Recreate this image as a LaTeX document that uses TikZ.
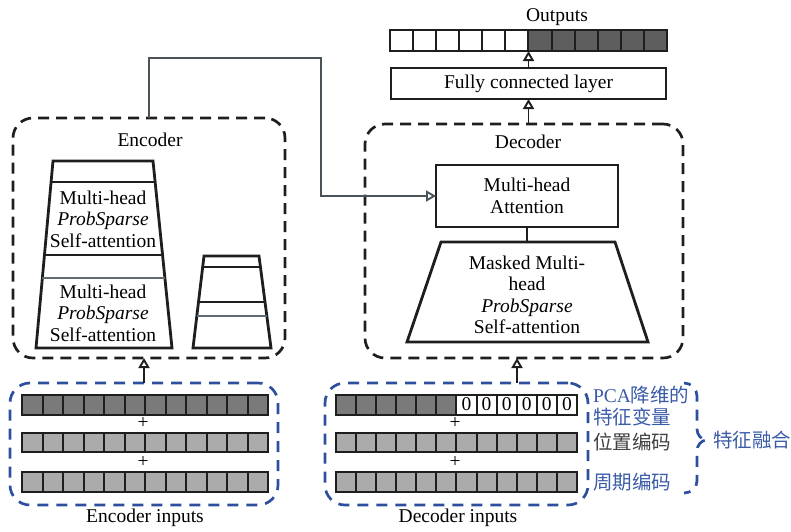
\documentclass[tikz,border=0pt]{standalone}
\usepackage{fontspec}
\setmainfont{Liberation Serif}
\newfontfamily\cjk{Noto Sans CJK SC}
\usetikzlibrary{arrows.meta,calc}
\definecolor{lineblk}{HTML}{1E1E1E}
\definecolor{conngray}{HTML}{4A5358}
\definecolor{midgray}{HTML}{5E6C72}
\definecolor{dashblue}{HTML}{2C4F9E}
\definecolor{txtblue}{HTML}{3A5BA8}
\definecolor{celldark}{HTML}{7A7A7A}
\definecolor{celllight}{HTML}{ABABAB}
\definecolor{outdark}{HTML}{5E5E5E}
\begin{document}
\begin{tikzpicture}[x=1pt,y=-1pt,
  font=\fontsize{19.5}{21.5}\selectfont,
  blkdash/.style={draw=lineblk, line width=2.7pt, dash pattern=on 11pt off 7pt, rounded corners=20pt, inner sep=0pt, outer sep=0pt},
  bluedash/.style={draw=dashblue, line width=2.7pt, dash pattern=on 11pt off 8pt, rounded corners=20pt, inner sep=0pt, outer sep=0pt},
  solidbox/.style={draw=lineblk, line width=2.8pt, inner sep=0pt, outer sep=0pt, align=center},
  trap/.style={draw=lineblk, line width=2.8pt, line join=miter},
  sep/.style={draw=lineblk, line width=2.4pt},
  gsep/.style={draw=midgray, line width=2.4pt},
  arrtip/.tip={Triangle[open, length=10pt, width=11pt, line width=1.9pt]},
  arr/.style={draw=lineblk, line width=1.8pt, -arrtip},
  conn/.style={draw=conngray, line width=1.8pt},
  cell/.style={draw=lineblk, line width=2pt},
  lbl/.style={inner sep=0pt, outer sep=0pt},
]
\useasboundingbox (0,0) rectangle (791,531);

% ---------- Outputs ----------
\node[lbl] (outlbl) at (557,17) {Outputs};
\node[lbl, minimum width=277pt, minimum height=21pt] (outbar) at (528.5,40.5) {};
\foreach \i in {0,...,5}
  \draw[cell, fill=white] (390+\i*23.08,30) rectangle ++(23.08,21);
\foreach \i in {6,...,11}
  \draw[cell, fill=outdark] (390+\i*23.08,30) rectangle ++(23.08,21);

\node[solidbox, minimum width=275pt, minimum height=31pt] (fc) at (528.5,83.5) {Fully connected layer};
\draw[arr] (fc.north) -- (fc.north |- outbar.south);

% ---------- Encoder ----------
\node[blkdash, minimum width=272pt, minimum height=240pt] (enc) at (149,238) {};
\node[lbl] (enclbl) at (150,140) {Encoder};

% big trapezoid
\draw[trap] (53,161) -- (153,161) -- (172,348) -- (36,348) -- cycle;
\draw[sep] (51.1,182) -- (155.1,182);
\draw[sep] (44.5,255) -- (162.5,255);
\draw[gsep] (42.4,278) -- (164.9,278);
\node[lbl, align=center] (enctxt1) at (103,219) {Multi-head\\\textit{ProbSparse}\\Self-attention};
\node[lbl, align=center] (enctxt2) at (103,313) {Multi-head\\\textit{ProbSparse}\\Self-attention};

% small trapezoid
\draw[trap] (204,256) -- (259,256) -- (271,348) -- (193,348) -- cycle;
\draw[sep] (202.7,267) -- (260.4,267);
\draw[sep] (198.5,302) -- (265,302);
\draw[gsep] (196.8,316) -- (266.8,316);

% ---------- Decoder ----------
\node[blkdash, minimum width=318pt, minimum height=234pt] (dec) at (524,241) {};
\node[lbl] (declbl) at (528,142) {Decoder};
\draw[arr] (dec.north -| fc.south) -- (fc.south);

\node[solidbox, minimum width=182pt, minimum height=62pt] (mha) at (527,196) {Multi-head\\Attention};
\coordinate (mtop) at (527,242);
\draw[trap] (441,242) -- (615,242) -- (648,342) -- (407,342) -- cycle;
\node[lbl, align=center] (masktxt) at (527,295) {Masked Multi-\\head\\\textit{ProbSparse}\\Self-attention};
\draw[draw=lineblk, line width=1.8pt] (mha.south) -- (mtop);

% encoder -> decoder connector
\coordinate (bend) at (321,58);
\draw[conn, -arrtip] (enc.north) |- (bend) |- (mha.west);

% ---------- Encoder inputs ----------
\node[bluedash, minimum width=268pt, minimum height=122pt] (encin) at (144,444) {};
\draw[arr] (encin.north) -- (encin.north |- enc.south);
\foreach \i in {0,...,11}{
  \draw[cell, fill=celldark] (22+\i*20.5,395) rectangle ++(20.5,19.5);
  \draw[cell, fill=celllight] (22+\i*20.5,432.5) rectangle ++(20.5,19.5);
  \draw[cell, fill=celllight] (22+\i*20.5,472) rectangle ++(20.5,19.5);
}
\node[lbl] (eplus1) at (143,423) {+};
\node[lbl] (eplus2) at (143,462) {+};
\node[lbl] (encinlbl) at (145,518) {Encoder inputs};

% ---------- Decoder inputs ----------
\node[bluedash, minimum width=263pt, minimum height=122pt] (decin) at (456.5,444) {};
\coordinate (dinarr) at (517,383);
\draw[arr] (dinarr) -- (dinarr |- dec.south);
\foreach \i in {0,...,5}
  \draw[cell, fill=celldark] (336+\i*20.08,395) rectangle ++(20.08,19.5);
\foreach \i in {6,...,11}{
  \draw[cell, fill=white] (336+\i*20.08,395) rectangle ++(20.08,19.5);
  \node[lbl] at (336+\i*20.08+10.04,404.5) {0};
}
\foreach \i in {0,...,11}{
  \draw[cell, fill=celllight] (336+\i*20.08,432.5) rectangle ++(20.08,19.5);
  \draw[cell, fill=celllight] (336+\i*20.08,472) rectangle ++(20.08,19.5);
}
\node[lbl] (dplus1) at (455,423) {+};
\node[lbl] (dplus2) at (455,462) {+};
\node[lbl] (decinlbl) at (458,518) {Decoder inputs};

% ---------- Feature labels ----------
\node[lbl, anchor=west, text=txtblue] (pca1) at (593,395) {PCA\cjk 降维的};
\node[lbl, anchor=west, text=txtblue] (pca2) at (593,417) {\cjk 特征变量};
\node[lbl, anchor=west, text=lineblk!85] (pos) at (593,442) {\cjk 位置编码};
\node[lbl, anchor=west, text=txtblue] (per) at (593,482) {\cjk 周期编码};
\draw[draw=dashblue, line width=2.7pt, dash pattern=on 11pt off 8pt, dash phase=4pt]
  (684,383) to[out=0,in=90] (697,396) -- (697,429) to[out=-90,in=180] (707,440)
  to[out=180,in=90] (697,451) -- (697,481) to[out=-90,in=0] (684,493);
\node[lbl, anchor=west, text=txtblue] (fusion) at (713,440) {\cjk 特征融合};

\end{tikzpicture}
\end{document}
